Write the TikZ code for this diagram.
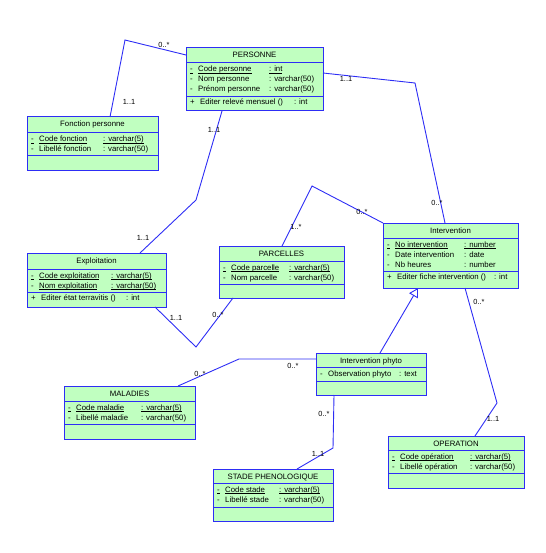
\documentclass[tikz,border=0pt]{standalone}
\usepackage{fontspec}
\setmainfont{Liberation Sans}
\usepackage{tikz}
\usetikzlibrary{arrows.meta}
\definecolor{umlblue}{RGB}{45,45,245}
\definecolor{umlgreen}{RGB}{192,255,192}
\newcommand{\keyul}[1]{\setbox0\hbox{#1}\rlap{\rule[-1.2pt]{\wd0}{0.5pt}}\box0}
\newcommand{\attline}[3]{\makebox[8pt][l]{-}\makebox[#1][l]{#2}#3}
\newcommand{\keyline}[3]{\makebox[8pt][l]{\keyul{-}}\makebox[#1][l]{\keyul{#2}}\keyul{#3}}
\newcommand{\halfkeyline}[3]{\makebox[8pt][l]{-}\makebox[#1][l]{\keyul{#2}}\keyul{#3}}
\newcommand{\opline}[3]{\makebox[10pt][l]{+}\makebox[#1][l]{#2}#3}

\begin{document}
\begin{tikzpicture}[
  x=1pt, y=-1pt,
  cls/.style={rectangle, draw=umlblue, fill=umlgreen, line width=1pt, inner sep=0pt, outer sep=0pt, anchor=north west},
  sep/.style={draw=umlblue, line width=1pt},
  txt/.style={inner sep=0pt, font=\fontsize{7.8}{9}\selectfont},
  row/.style={txt, anchor=base west},
  title/.style={txt, anchor=base},
  mult/.style={inner sep=0pt, font=\fontsize{7.4}{9}\selectfont},
  assoc/.style={draw=umlblue, line width=0.9pt},
  inherit/.style={assoc, -{Triangle[open, length=9pt, width=10pt]}}
]
\useasboundingbox (0,0) rectangle (545,553);

% classes
\node[cls, minimum width=137, minimum height=63] (pers) at (186,48) {};
\draw[sep] ([shift={(0,15)}]pers.north west) -- ([shift={(0,15)}]pers.north east);
\draw[sep] ([shift={(0,49)}]pers.north west) -- ([shift={(0,49)}]pers.north east);
\node[title] (pers-n) at ([shift={(0,10)}]pers.north) {PERSONNE};
\node[row] (pers-a1) at ([shift={(4,24)}]pers.north west) {\keyline{71pt}{Code personne}{: int}};
\node[row] (pers-a2) at ([shift={(4,34)}]pers.north west) {\attline{71pt}{Nom personne}{: varchar(50)}};
\node[row] (pers-a3) at ([shift={(4,44)}]pers.north west) {\attline{71pt}{Prénom personne}{: varchar(50)}};
\node[row] (pers-o1) at ([shift={(4,57)}]pers.north west) {\opline{94pt}{Editer relevé mensuel ()}{: int}};

\node[cls, minimum width=131, minimum height=54] (fonc) at (27,117) {};
\draw[sep] ([shift={(0,16)}]fonc.north west) -- ([shift={(0,16)}]fonc.north east);
\draw[sep] ([shift={(0,39)}]fonc.north west) -- ([shift={(0,39)}]fonc.north east);
\node[title] (fonc-n) at ([shift={(0,10)}]fonc.north) {Fonction personne};
\node[row] (fonc-a1) at ([shift={(4,25)}]fonc.north west) {\keyline{64pt}{Code fonction}{: varchar(5)}};
\node[row] (fonc-a2) at ([shift={(4,35)}]fonc.north west) {\attline{64pt}{Libellé fonction}{: varchar(50)}};

\node[cls, minimum width=135, minimum height=65] (interv) at (383,223) {};
\draw[sep] ([shift={(0,15)}]interv.north west) -- ([shift={(0,15)}]interv.north east);
\draw[sep] ([shift={(0,48)}]interv.north west) -- ([shift={(0,48)}]interv.north east);
\node[title] (interv-n) at ([shift={(0,10)}]interv.north) {Intervention};
\node[row] (interv-a1) at ([shift={(4,24)}]interv.north west) {\keyline{69pt}{No intervention}{: number}};
\node[row] (interv-a2) at ([shift={(4,34)}]interv.north west) {\attline{69pt}{Date intervention}{: date}};
\node[row] (interv-a3) at ([shift={(4,44)}]interv.north west) {\attline{69pt}{Nb heures}{: number}};
\node[row] (interv-o1) at ([shift={(4,56)}]interv.north west) {\opline{97pt}{Editer fiche intervention ()}{: int}};

\node[cls, minimum width=125, minimum height=52] (parc) at (219,246) {};
\draw[sep] ([shift={(0,15)}]parc.north west) -- ([shift={(0,15)}]parc.north east);
\draw[sep] ([shift={(0,38)}]parc.north west) -- ([shift={(0,38)}]parc.north east);
\node[title] (parc-n) at ([shift={(0,10)}]parc.north) {PARCELLES};
\node[row] (parc-a1) at ([shift={(4,24)}]parc.north west) {\keyline{58pt}{Code parcelle}{: varchar(5)}};
\node[row] (parc-a2) at ([shift={(4,34)}]parc.north west) {\attline{58pt}{Nom parcelle}{: varchar(50)}};

\node[cls, minimum width=139, minimum height=54] (expl) at (27,253) {};
\draw[sep] ([shift={(0,16)}]expl.north west) -- ([shift={(0,16)}]expl.north east);
\draw[sep] ([shift={(0,39)}]expl.north west) -- ([shift={(0,39)}]expl.north east);
\node[title] (expl-n) at ([shift={(0,10)}]expl.north) {Exploitation};
\node[row] (expl-a1) at ([shift={(4,25)}]expl.north west) {\keyline{72pt}{Code exploitation}{: varchar(5)}};
\node[row] (expl-a2) at ([shift={(4,35)}]expl.north west) {\halfkeyline{72pt}{Nom exploitation}{: varchar(50)}};
\node[row] (expl-o1) at ([shift={(4,47)}]expl.north west) {\opline{85pt}{Editer état terravitis ()}{: int}};

\node[cls, minimum width=110, minimum height=42] (phyto) at (316,353) {};
\draw[sep] ([shift={(0,14)}]phyto.north west) -- ([shift={(0,14)}]phyto.north east);
\draw[sep] ([shift={(0,28)}]phyto.north west) -- ([shift={(0,28)}]phyto.north east);
\node[title] (phyto-n) at ([shift={(0,10)}]phyto.north) {Intervention phyto};
\node[row] (phyto-a1) at ([shift={(4,23)}]phyto.north west) {\attline{71pt}{Observation phyto}{: text}};

\node[cls, minimum width=131, minimum height=53] (mal) at (64,386) {};
\draw[sep] ([shift={(0,15)}]mal.north west) -- ([shift={(0,15)}]mal.north east);
\draw[sep] ([shift={(0,38)}]mal.north west) -- ([shift={(0,38)}]mal.north east);
\node[title] (mal-n) at ([shift={(0,10)}]mal.north) {MALADIES};
\node[row] (mal-a1) at ([shift={(4,24)}]mal.north west) {\keyline{65pt}{Code maladie}{: varchar(5)}};
\node[row] (mal-a2) at ([shift={(4,34)}]mal.north west) {\attline{65pt}{Libellé maladie}{: varchar(50)}};

\node[cls, minimum width=136, minimum height=52] (oper) at (388,436) {};
\draw[sep] ([shift={(0,14)}]oper.north west) -- ([shift={(0,14)}]oper.north east);
\draw[sep] ([shift={(0,37)}]oper.north west) -- ([shift={(0,37)}]oper.north east);
\node[title] (oper-n) at ([shift={(0,10)}]oper.north) {OPERATION};
\node[row] (oper-a1) at ([shift={(4,23)}]oper.north west) {\keyline{70pt}{Code opération}{: varchar(5)}};
\node[row] (oper-a2) at ([shift={(4,33)}]oper.north west) {\attline{70pt}{Libellé opération}{: varchar(50)}};

\node[cls, minimum width=120, minimum height=52] (stade) at (213,469) {};
\draw[sep] ([shift={(0,14)}]stade.north west) -- ([shift={(0,14)}]stade.north east);
\draw[sep] ([shift={(0,38)}]stade.north west) -- ([shift={(0,38)}]stade.north east);
\node[title] (stade-n) at ([shift={(0,10)}]stade.north) {STADE PHENOLOGIQUE};
\node[row] (stade-a1) at ([shift={(4,23)}]stade.north west) {\keyline{54pt}{Code stade}{: varchar(5)}};
\node[row] (stade-a2) at ([shift={(4,33)}]stade.north west) {\attline{54pt}{Libellé stade}{: varchar(50)}};

% associations
\draw[assoc] ([shift={(0,7)}]pers.north west) -- (125,40) -- ([shift={(83,0)}]fonc.north west);
\draw[assoc] ([shift={(0,25)}]pers.north east) -- (415,83) -- ([shift={(62,0)}]interv.north west);
\draw[assoc] ([shift={(36,0)}]pers.south west) -- (196,200) -- ([shift={(113,0)}]expl.north west);
\draw[assoc] ([shift={(63,0)}]parc.north west) -- (312,186) -- (interv.north west);
\draw[assoc] ([shift={(128,0)}]expl.south west) -- (196,347) -- ([shift={(14,0)}]parc.south west);
\draw[assoc] ([shift={(82,0)}]interv.south west) -- (497,403) -- ([shift={(87,0)}]oper.north west);
\draw[assoc] ([shift={(0,6)}]phyto.north west) -- (239,359) -- ([shift={(114,0)}]mal.north west);
\draw[assoc] ([shift={(18,0)}]phyto.south west) -- (333,448) -- ([shift={(84,0)}]stade.north west);
\draw[inherit] ([shift={(64,0)}]phyto.north west) -- ([shift={(35,0)}]interv.south west);

% multiplicities
\node[mult] (m1) at (164,45) {0..*};
\node[mult] (m2) at (129,102) {1..1};
\node[mult] (m3) at (346,79) {1..1};
\node[mult] (m4) at (437,203) {0..*};
\node[mult] (m5) at (214,130) {1..1};
\node[mult] (m6) at (143,238) {1..1};
\node[mult] (m7) at (296,227) {1..*};
\node[mult] (m8) at (362,212) {0..*};
\node[mult] (m9) at (176,318) {1..1};
\node[mult] (m10) at (218,315) {0..*};
\node[mult] (m11) at (479,302) {0..*};
\node[mult] (m12) at (493,419) {1..1};
\node[mult] (m13) at (293,366) {0..*};
\node[mult] (m14) at (200,374) {0..*};
\node[mult] (m15) at (324,414) {0..*};
\node[mult] (m16) at (318,454) {1..1};
\end{tikzpicture}
\end{document}
